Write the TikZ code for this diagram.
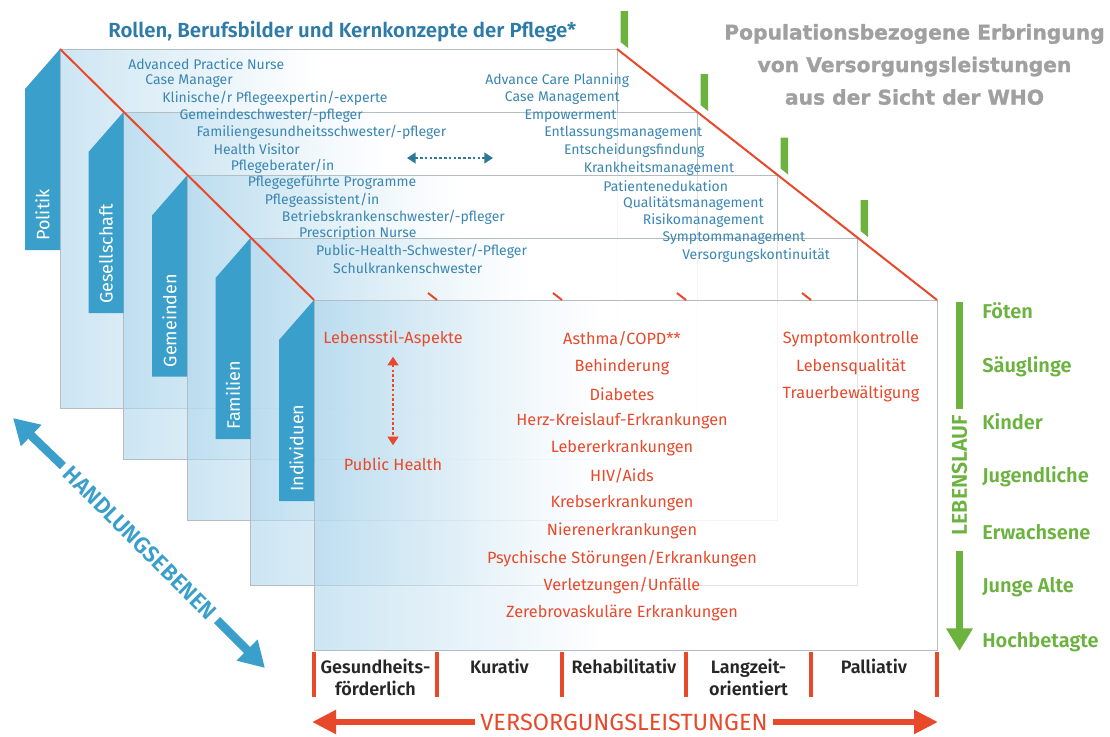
\documentclass[tikz,border=0pt]{standalone}
\usepackage{fontspec}
\setmainfont{Fira Sans}[BoldFont={Fira Sans SemiBold}]
\newfontfamily\heavyfont{DejaVu Sans Bold}[FakeBold=1.2]
\usetikzlibrary{arrows.meta}
\definecolor{tabblue}{HTML}{3A9FCB}
\definecolor{txtblue}{HTML}{3A86B2}
\definecolor{ttlblue}{HTML}{2E7BA8}
\definecolor{arrblue}{HTML}{2D7799}
\definecolor{pred}{HTML}{E8492B}
\definecolor{pgreen}{HTML}{6BB23F}
\definecolor{pgray}{HTML}{A0A0A0}
\definecolor{pline}{HTML}{B4BDC2}
\definecolor{pshade}{HTML}{4FA7D6}
\pgfdeclarehorizontalshading{panelsh}{100bp}{color(0bp)=(pshade); color(20bp)=(pshade!55!white); color(48bp)=(white); color(100bp)=(white)}
\tikzset{
  panel/.style={shading=panelsh, fill opacity=0.62},
  panelline/.style={draw=pline, line width=0.6pt},
  tablabel/.style={text=white, font=\fontsize{13.5}{15}\selectfont, rotate=90, anchor=west, inner sep=0pt},
  role/.style={text=txtblue, font=\fontsize{10.5}{12}\selectfont, anchor=west, inner sep=0pt},
  ill/.style={text=pred, font=\fontsize{12.2}{14}\selectfont, inner sep=0pt},
  age/.style={text=pgreen, font=\bfseries\fontsize{15}{17}\selectfont, anchor=west, inner sep=0pt},
  colhead/.style={text=black!85, font=\bfseries\fontsize{13.5}{16.5}\selectfont, align=center, inner sep=0pt},
  redbar/.style={draw=pred, line width=3pt},
  greenbar/.style={fill=pgreen},
  dotarrow/.style={line width=2pt, dash pattern=on 2pt off 1.6pt, {Triangle[length=6.5pt,width=8pt]}-{Triangle[length=6.5pt,width=8pt]}},
}
\begin{document}
\begin{tikzpicture}[x=0.75pt,y=-0.75pt]
\useasboundingbox (0,0) rectangle (1110,736);
\fill[white] (0,0) rectangle (1110,736);
% panels back to front
\foreach \l/\t/\r/\b in {60/49/617/408, 123.5/112/697/459, 187/175.5/777/520, 250.5/238/857/585, 314/300/937/650}{
  \shade[panel] (\l,\t) rectangle (\r,\b);
  \draw[panelline] (\l,\t) rectangle (\r,\b);
}
% titles
\node[anchor=west, inner sep=0pt, text=ttlblue, font=\bfseries\fontsize{15.3}{17}\selectfont] (title) at (108,32) {Rollen, Berufsbilder und Kernkonzepte der Pflege*};
\node[inner sep=0pt, text=pgray, align=center, font=\heavyfont\fontsize{15.2}{24.4}\selectfont] (who) at (914.5,64.5) {Populationsbezogene Erbringung\\von Versorgungsleistungen\\aus der Sicht der WHO};
% roles
\foreach \t [count=\i from 0] in {Advanced Practice Nurse, Case Manager, Klinische/r Pflegeexpertin/-experte, Gemeindeschwester/-pfleger, Familiengesundheitsschwester/-pfleger, Health Visitor, Pflegeberater/in, Pflegegeführte Programme, Pflegeassistent/in, Betriebskrankenschwester/-pfleger, Prescription Nurse, Public-Health-Schwester/-Pfleger, Schulkrankenschwester}{
  \node[role] (r\i) at (128+17.08*\i, 64+17*\i) {\t};
}
\foreach \t [count=\i from 0] in {Advance Care Planning, Case Management, Empowerment, Entlassungsmanagement, Entscheidungsfindung, Krankheitsmanagement, Patientenedukation, Qualitätsmanagement, Risikomanagement, Symptommanagement, Versorgungskontinuität}{
  \node[role] (k\i) at (485+19.7*\i, 80.7+17.5*\i) {\t};
}
\coordinate (da1) at (407,158);
\coordinate (da2) at (493,158);
\draw[arrblue, dotarrow] (da1) -- (da2);
% tabs
\foreach \cx/\cy/\lab/\nm in {60/49/Politik/tA, 123.5/112/Gesellschaft/tB, 187/175.5/Gemeinden/tC, 250.5/238/Familien/tD, 314/300/Individuen/tE}{
  \fill[tabblue] (\cx,\cy) -- (\cx,\cy+201) -- (\cx-35,\cy+201) -- (\cx-35,\cy+40) -- cycle;
  \node[tablabel] (\nm) at (\cx-17.5,\cy+192) {\lab};
}
% red diagonals
\coordinate (dl1) at (60,49); \coordinate (dl2) at (314,300);
\coordinate (dr1) at (617,49); \coordinate (dr2) at (937,300);
\draw[pred, line width=1.5pt] (dl1) -- (dl2);
\draw[pred, line width=1.5pt] (dr1) -- (dr2);
\foreach \x in {437,562,686,811}{
  \draw[pred, line width=1.5pt] (\x-9,293) -- (\x,300);
}
% green bars
\foreach \rx/\ry in {617/49, 697/112, 777/175.5, 857/238}{
  \fill[greenbar] (\rx+3.5,\ry-38) -- (\rx+11,\ry-38) -- (\rx+11,\ry-1) -- (\rx+3.5,\ry-7) -- cycle;
}
% front content
\node[ill] (ls) at (393,339) {Lebensstil-Aspekte};
\node[ill] (ph) at (393,464) {Public Health};
\draw[pred, dotarrow, shorten <=7pt, shorten >=9pt] (ls.south) -- (ph.north);
\foreach \t [count=\i from 0] in {Asthma/COPD**, Behinderung, Diabetes, Herz-Kreislauf-Erkrankungen, Lebererkrankungen, HIV/Aids, Krebserkrankungen, Nierenerkrankungen, Psychische Störungen/Erkrankungen, Verletzungen/Unfälle, Zerebrovaskuläre Erkrankungen}{
  \node[ill] (m\i) at (622, 339+27.4*\i) {\t};
}
\foreach \t [count=\i from 0] in {Symptomkontrolle, Lebensqualität, Trauerbewältigung}{
  \node[ill] (p\i) at (851, 339+27.4*\i) {\t};
}
% lifecourse
\foreach \t [count=\i from 0] in {Föten, Säuglinge, Kinder, Jugendliche, Erwachsene, Junge Alte, Hochbetagte}{
  \node[age] (a\i) at (982, 311+55.2*\i) {\t};
}
\node[rotate=90, inner sep=0pt, text=pgreen, font=\bfseries\fontsize{16}{18}\selectfont] (ll) at (959.5,475) {LEBENSLAUF};
\coordinate (lt) at (959.5,302);
\coordinate (lb) at (959.5,651);
\draw[pgreen, line width=5.25pt, shorten <=4pt] (ll.east) -- (lt);
\draw[pgreen, line width=5.25pt, shorten <=12pt, -{Triangle[length=17pt,width=19pt]}] (ll.west) -- (lb);
% care columns
\foreach \x in {314,437,562,686,811,937}{
  \draw[redbar] (\x,652) -- (\x,697);
}
\node[colhead] (c1) at (375.5,677) {Gesundheits-\\förderlich};
\node[colhead] (c2) at (499.5,666) {Kurativ};
\node[colhead] (c3) at (624,666) {Rehabilitativ};
\node[colhead] (c4) at (748.5,677) {Langzeit-\\orientiert};
\node[colhead] (c5) at (874,666) {Palliativ};
% Versorgungsleistungen arrow
\node[inner sep=0pt, text=pred, font=\fontsize{17.6}{19}\selectfont] (vl) at (624,722) {VERSORGUNGSLEISTUNGEN};
\coordinate (vL) at (312,722);
\coordinate (vR) at (938,722);
\draw[pred, line width=5pt, shorten <=4pt, -{Triangle[length=18pt,width=17pt]}] (vl.west) -- (vL);
\draw[pred, line width=5pt, shorten <=4pt, -{Triangle[length=18pt,width=17pt]}] (vl.east) -- (vR);
% Handlungsebenen arrow
\node[rotate=-45, inner sep=0pt, text=tabblue, font=\bfseries\fontsize{17}{19}\selectfont] (he) at (140,543) {HANDLUNGSEBENEN};
\coordinate (h1) at (13,418);
\coordinate (h2) at (265,668);
\draw[tabblue, line width=6.5pt, shorten <=4pt, -{Triangle[length=19pt,width=21pt]}] (he.west) -- (h1);
\draw[tabblue, line width=6.5pt, shorten <=4pt, -{Triangle[length=19pt,width=21pt]}] (he.east) -- (h2);
\end{tikzpicture}
\end{document}
